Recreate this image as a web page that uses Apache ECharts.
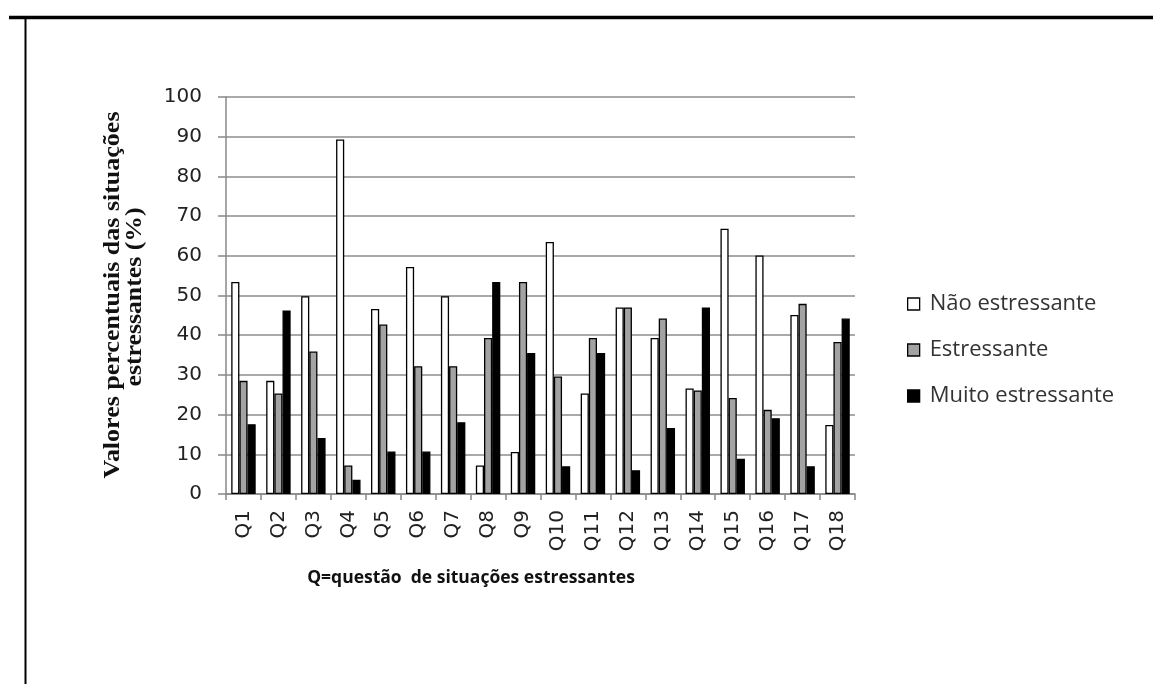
<!DOCTYPE html>
<html>
<head>
<meta charset="utf-8">
<script src="https://cdn.jsdelivr.net/npm/echarts@6/dist/echarts.min.js"></script>
<style>
  html, body { margin: 0; padding: 0; background: #fff; }
  #chart { width: 1153px; height: 684px; }
</style>
</head>
<body>
<div id="chart"></div>
<script>
// categorias (questões)
const categories = ["Q1", "Q2", "Q3", "Q4", "Q5", "Q6", "Q7", "Q8", "Q9",
  "Q10", "Q11", "Q12", "Q13", "Q14", "Q15", "Q16", "Q17", "Q18"];

// valores percentuais
const naoEstressante = [53.4, 28.5, 49.8, 89.3, 46.6, 57.2, 49.8, 7.2, 10.6,
  63.5, 25.3, 47.0, 39.3, 26.6, 66.8, 60.1, 45.1, 17.4];
const estressante = [28.5, 25.3, 35.9, 7.2, 42.7, 32.2, 32.2, 39.3, 53.4,
  29.6, 39.3, 47.0, 44.2, 26.1, 24.2, 21.2, 47.9, 38.3];
const muitoEstressante = [17.6, 46.2, 14.1, 3.6, 10.7, 10.7, 18.1, 53.4, 35.5,
  7.0, 35.5, 6.0, 16.6, 47.0, 8.9, 19.1, 7.0, 44.2];

const seriesNames = ["Não estressante", "Estressante", "Muito estressante"];
const seriesColors = ["#ffffff", "#a3a3a3", "#000000"];

const chart = echarts.init(document.getElementById("chart"));

const barStyle = (color) => ({
  color: color,
  borderColor: "#000",
  borderWidth: 1.3,
});

const option = {
  backgroundColor: "#fff",
  animation: false,
  grid: {
    left: 226,
    right: 298,
    top: 97,
    bottom: 190,
    containLabel: false,
  },
  legend: {
    orient: "vertical",
    left: 902,
    top: 288,
    itemWidth: 12,
    itemHeight: 12,
    itemGap: 24,
    icon: "rect",
    data: seriesNames,
    itemStyle: { borderColor: "#000", borderWidth: 1.3 },
    textStyle: {
      fontFamily: "Open Sans",
      fontSize: 22,
      color: "#333",
      padding: [0, 0, 0, 5],
    },
  },
  xAxis: {
    type: "category",
    data: categories,
    axisLine: { lineStyle: { color: "#888", width: 1.5 } },
    axisTick: { show: true, length: 6, lineStyle: { color: "#888", width: 1.5 } },
    axisLabel: {
      rotate: 90,
      margin: 16,
      fontFamily: "DejaVu Sans",
      fontSize: 20,
      color: "#222",
    },
  },
  yAxis: {
    type: "value",
    min: 0,
    max: 100,
    interval: 10,
    axisLine: { show: true, lineStyle: { color: "#888", width: 1.5 } },
    axisTick: { show: true, length: 8, lineStyle: { color: "#888", width: 1.5 } },
    axisLabel: {
      margin: 24,
      fontFamily: "DejaVu Sans",
      fontSize: 20,
      color: "#222",
    },
    splitLine: { lineStyle: { color: "#8c8c8c", width: 1.5 } },
  },
  graphic: [
    // moldura da figura
    {
      type: "line",
      shape: { x1: 9, y1: 17.5, x2: 1153, y2: 17.5 },
      style: { stroke: "#000", lineWidth: 3.5 },
    },
    {
      type: "line",
      shape: { x1: 25.5, y1: 17, x2: 25.5, y2: 684 },
      style: { stroke: "#000", lineWidth: 2 },
    },
    // título do eixo Y (duas linhas)
    {
      type: "text",
      x: 113,
      y: 295,
      rotation: Math.PI / 2,
      scaleX: 1.13,
      style: {
        text: "Valores percentuais das situações",
        font: "bold 23px 'Liberation Serif'",
        fill: "#111",
        align: "center",
        verticalAlign: "middle",
      },
    },
    {
      type: "text",
      x: 135,
      y: 297,
      rotation: Math.PI / 2,
      scaleX: 1.12,
      style: {
        text: "estressantes (%)",
        font: "bold 23px 'Liberation Serif'",
        fill: "#111",
        align: "center",
        verticalAlign: "middle",
      },
    },
    // título do eixo X
    {
      type: "text",
      x: 471,
      y: 578,
      style: {
        text: "Q=questão  de situações estressantes",
        font: "bold 17.5px 'Open Sans'",
        fill: "#111",
        align: "center",
        verticalAlign: "middle",
      },
    },
  ],
  series: [
    {
      name: seriesNames[0],
      type: "bar",
      data: naoEstressante,
      barGap: "0%",
      barCategoryGap: "30%",
      itemStyle: barStyle(seriesColors[0]),
    },
    {
      name: seriesNames[1],
      type: "bar",
      data: estressante,
      barGap: "0%",
      barCategoryGap: "30%",
      itemStyle: barStyle(seriesColors[1]),
    },
    {
      name: seriesNames[2],
      type: "bar",
      data: muitoEstressante,
      barGap: "0%",
      barCategoryGap: "30%",
      itemStyle: barStyle(seriesColors[2]),
    },
  ],
};

chart.setOption(option);
</script>
</body>
</html>
